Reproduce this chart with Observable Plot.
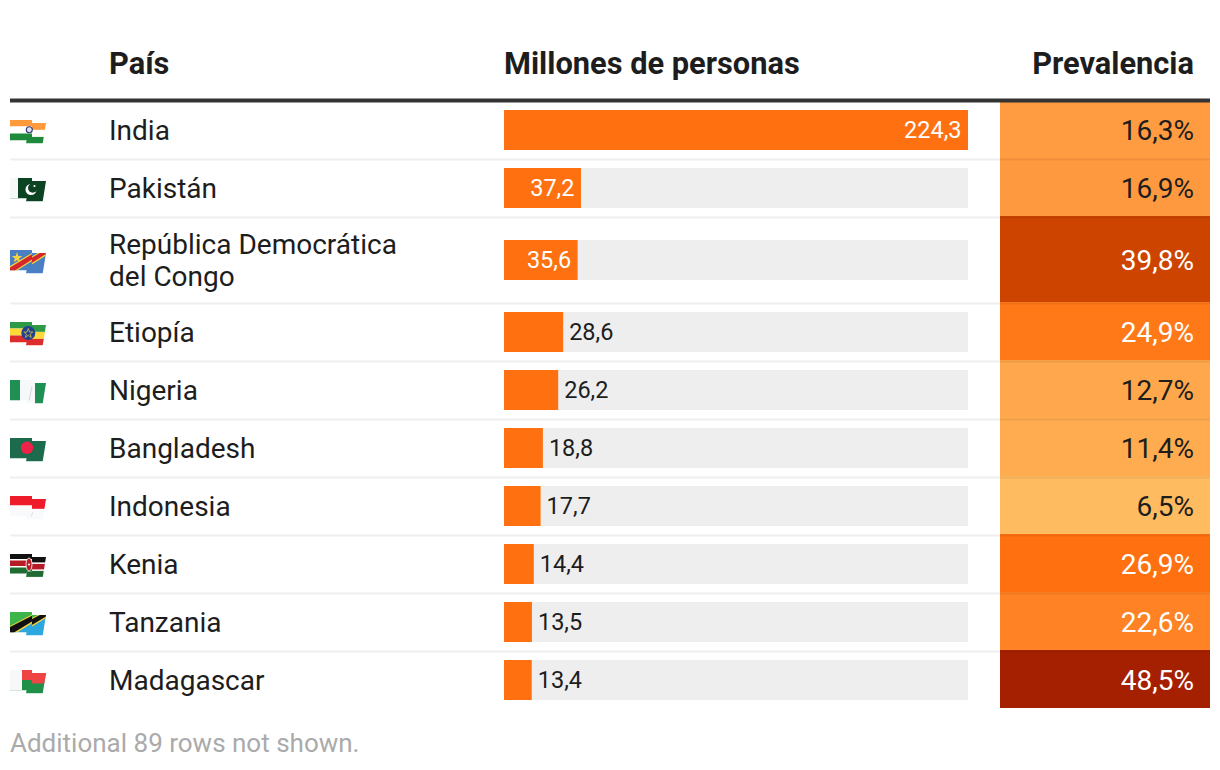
<!DOCTYPE html>
<html lang="es">
<head>
<meta charset="utf-8">
<script src="https://cdn.jsdelivr.net/npm/d3@7"></script>
<script src="https://cdn.jsdelivr.net/npm/@observablehq/plot@0.6"></script>
<style>
html,body{margin:0;padding:0;background:#fff;}
svg{display:block;font-family:Roboto,sans-serif;}
</style>
</head>
<body>
<div id="chart"></div>
<script>
const countries = ["India","Pakistán","República Democrática\ndel Congo","Etiopía","Nigeria","Bangladesh","Indonesia","Kenia","Tanzania","Madagascar"];
const millions = [224.3,37.2,35.6,28.6,26.2,18.8,17.7,14.4,13.5,13.4];
const prevalence = [16.3,16.9,39.8,24.9,12.7,11.4,6.5,26.9,22.6,48.5];
const nameLines = [1,1,2,1,1,1,1,1,1,1];
const colorStops = [6.5,16.6,26.9,39.8,48.5];
const colorRange = ["#ffbb60","#ff9a40","#ff7110","#cc4400","#a52000"];
const headers = ["País","Millones de personas","Prevalencia"];
const footer = "Additional 89 rows not shown.";

const flagArt = [
  '<rect width="36" height="7" fill="#ff9a3c"/><rect y="7" width="36" height="7" fill="#fff"/><rect y="14" width="36" height="7" fill="#1f8a3c"/>',
  '<rect width="36" height="21" fill="#0c4423"/><rect width="8" height="21" fill="#f7f8fa"/>',
  '<rect width="36" height="21" fill="#4a7fc4"/><path d="M0 16.5L28 0H36V2.5L7 21H0Z" fill="#f5d33c"/><path d="M0 18L30 0H36V1L5 21H0Z" fill="#d4262c"/>',
  '<rect width="36" height="7" fill="#2e9a48"/><rect y="7" width="36" height="7" fill="#fcd838"/><rect y="14" width="36" height="7" fill="#de2b2b"/>',
  '<rect width="36" height="21" fill="#f7f8fa"/><rect width="10" height="21" fill="#1f8f54"/><rect x="25" width="11" height="21" fill="#1f8f54"/>',
  '<rect width="36" height="21" fill="#1c6b4d"/>',
  '<rect width="36" height="10" fill="#ee1c2a"/><rect y="10" width="36" height="11" fill="#f9fafb"/>',
  '<rect width="36" height="21" fill="#fff"/><rect width="36" height="5.5" fill="#111"/><rect y="7" width="36" height="5.5" fill="#b71c26"/><rect y="14" width="36" height="6" fill="#1f6b32"/>',
  '<rect width="36" height="21" fill="#2ca7e0"/><path d="M0 0H36L0 21Z" fill="#3cb54a"/><path d="M0 14.5L28 0H36V3L7 21H0Z" fill="#f5d33c"/><path d="M0 15.5L30 0H36V1.5L4 21H0Z" fill="#111"/>',
  '<rect width="36" height="21" fill="#1f8f4a"/><rect x="12" width="24" height="10.5" fill="#ef4444"/><rect width="12" height="21" fill="#f7f8fa"/>'
];
const flagEmblems = [
  '<circle cx="19.3" cy="10.3" r="3" fill="#dfe3ee" stroke="#33337a" stroke-width="1.1"/>',
  '<circle cx="21" cy="12" r="5.5" fill="#fff"/><circle cx="22.7" cy="10.5" r="4.7" fill="#0c4423"/><circle cx="24.5" cy="8.5" r="1.1" fill="#fff"/>',
  '<path d="M7 2.5L8.3 6.6H12.3L9.1 9.1L10.3 13L7 10.6L3.7 13L4.9 9.1L1.7 6.6H5.7Z" fill="#f5d33c"/>',
  '<circle cx="18.3" cy="11.5" r="7" fill="#23408f"/><path d="M18.3 7L19.6 10.5H22.8L20.2 12.5L21.2 16L18.3 13.8L15.4 16L16.4 12.5L13.8 10.5H17Z" fill="none" stroke="#e8cf45" stroke-width=".7"/>',
  '<path d="M19 21L22 7" stroke="#d6d8dc" stroke-width="1"/>',
  '<circle cx="17" cy="10.3" r="6.2" fill="#ee2347"/>',
  '<path d="M21 21L23 16" stroke="#d8d8d8" stroke-width=".8"/>',
  '<ellipse cx="19" cy="11" rx="3" ry="6.5" fill="#b71c26" stroke="#fff" stroke-width=".8"/><circle cx="19" cy="11" r="1" fill="#fff"/>',
  '',
  ''
];
function flagSrc(art, emblem) {
  const svg = `<svg xmlns="http://www.w3.org/2000/svg" width="36" height="24" viewBox="0 0 36 24"><defs><clipPath id="a"><rect width="22" height="21"/></clipPath><clipPath id="b"><path d="M22 3.6H36L32.7 24H16L17 18H22Z"/></clipPath></defs><g clip-path="url(#a)">${art}</g><g clip-path="url(#b)"><g transform="translate(0 3.4)">${art}</g></g>${emblem}</svg>`;
  return "data:image/svg+xml," + encodeURIComponent(svg);
}

// table geometry, used only to place the columns and rows in the scales' terms
const xMax = d3.max(millions);
const xAt = px => xMax * (px - 504) / 464;
const baseH = 30, lineH = 28, top0 = 102;
let cursor = top0;
const rows = countries.map((name, i) => {
  const h = baseH + lineH * nameLines[i];
  const r = {name, value: millions[i], prev: prevalence[i], top: cursor, bottom: cursor + h - 2, mid: cursor + (h - 2) / 2, i};
  cursor += h;
  return r;
});
const fmt = v => v.toFixed(1).replace(".", ",");
const dark = "#1d1d1d";
const fs = 28;

const plot = Plot.plot({
  width: 1220, height: 770,
  marginTop: 0, marginRight: 0, marginBottom: 0, marginLeft: 0,
  style: {fontFamily: "Roboto, sans-serif", background: "#fff"},
  x: {axis: null, domain: [0, xMax], range: [504, 968]},
  y: {axis: null, domain: [0, 770], range: [0, 770]},
  color: {type: "linear", domain: colorStops, range: colorRange},
  marks: [
    // prevalence cells: each one reaches up under the separator above it
    Plot.rect(rows, {x1: xAt(1000), x2: xAt(1210), y1: d => d.i === 0 ? d.top : d.top - 2, y2: "bottom", fill: d => d.prev}),
    // separators
    Plot.ruleY(rows.slice(0, -1), {y: d => d.bottom + 1, x1: xAt(10), x2: xAt(1210), stroke: "#000", strokeOpacity: 0.067, strokeWidth: 2}),
    Plot.ruleY([100], {x1: xAt(10), x2: xAt(1210), stroke: "#333", strokeWidth: 4}),
    // header
    Plot.text([headers[0]], {x: xAt(108.5), y: 63.7, text: d => d, textAnchor: "start", fontSize: 30.8, fontWeight: 700, fill: dark}),
    Plot.text([headers[1]], {x: xAt(503.5), y: 63.7, text: d => d, textAnchor: "start", fontSize: 30.8, fontWeight: 700, fill: dark}),
    Plot.text([headers[2]], {x: xAt(1193.5), y: 63.7, text: d => d, textAnchor: "end", fontSize: 30.8, fontWeight: 700, fill: dark}),
    // flags
    Plot.image(rows, {x: xAt(27.5), y: d => d.mid + 1, width: 36, height: 24, src: d => flagSrc(flagArt[d.i], flagEmblems[d.i])}),
    // names
    Plot.text(rows, {x: xAt(108.5), y: d => d.mid - 1, text: "name", textAnchor: "start", fontSize: fs, lineHeight: 1.143, fill: dark}),
    // bars
    Plot.rect(rows, {x1: 0, x2: xMax, y1: d => d.mid - 20, y2: d => d.mid + 20, fill: "#eeeeee"}),
    Plot.rect(rows, {x1: 0, x2: "value", y1: d => d.mid - 20, y2: d => d.mid + 20, fill: "#ff7110"}),
    Plot.text(rows.filter(d => d.value > 30), {x: "value", y: "mid", dx: -7, text: d => fmt(d.value), textAnchor: "end", fontSize: 23.5, fill: "#fff"}),
    Plot.text(rows.filter(d => d.value <= 30), {x: "value", y: "mid", dx: 5.5, text: d => fmt(d.value), textAnchor: "start", fontSize: 23.5, fill: dark}),
    // prevalence text
    Plot.text(rows, {x: xAt(1193.5), y: d => d.mid + 1, text: d => fmt(d.prev) + "%", textAnchor: "end", fontSize: fs, fill: d => d.prev > 20 ? "#fff" : dark}),
    // footer
    Plot.text([footer], {x: xAt(9.5), y: 743, text: d => d, textAnchor: "start", fontSize: 26, fill: "#aaaaaa"})
  ]
});
document.getElementById("chart").append(plot);
</script>
</body>
</html>
